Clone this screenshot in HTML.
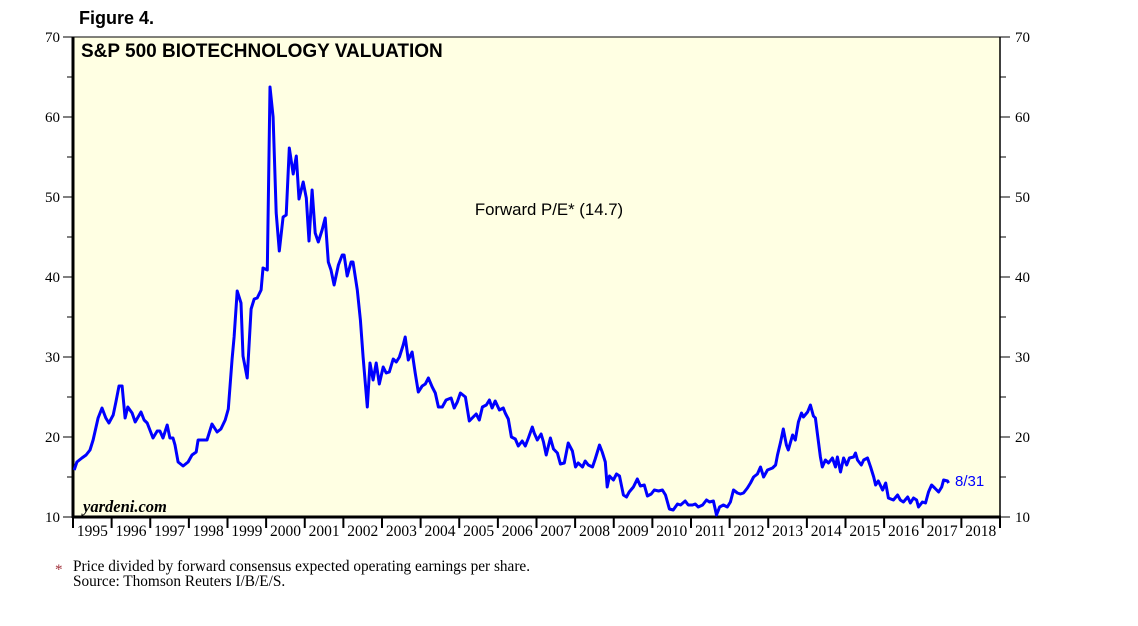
<!DOCTYPE html>
<html><head><meta charset="utf-8"><style>
body{margin:0;background:#fff;width:1138px;height:626px;overflow:hidden}
svg{display:block}
</style></head><body>
<svg id="chart" width="1138" height="626" xmlns="http://www.w3.org/2000/svg">
<text x="79" y="24" font-family="Liberation Sans, sans-serif" font-weight="bold" font-size="18">Figure 4.</text>
<rect x="73" y="37" width="927" height="480" fill="#FFFFE3" stroke="#000" stroke-width="1"/>
<text x="81" y="57" font-family="Liberation Sans, sans-serif" font-weight="bold" font-size="19">S&amp;P 500 BIOTECHNOLOGY VALUATION</text>
<text x="549" y="215" text-anchor="middle" font-family="Liberation Sans, sans-serif" font-size="16.8">Forward P/E* (14.7)</text>
<text x="83" y="512" font-family="Liberation Serif, serif" font-style="italic" font-weight="bold" font-size="16.5">yardeni.com</text>
<g id="axes"></g>
<g id="series"></g>
<text x="955" y="486" font-family="Liberation Sans, sans-serif" font-size="15" fill="#0000FF">8/31</text>
<text x="55" y="574" font-family="Liberation Serif, serif" font-size="15" fill="#A0303A">*</text>
<text x="73" y="571" font-family="Liberation Serif, serif" font-size="15.3">Price divided by forward consensus expected operating earnings per share.</text>
<text x="73" y="586" font-family="Liberation Serif, serif" font-size="15.3">Source: Thomson Reuters I/B/E/S.</text>
</svg>
<script>
const years = [1995,1996,1997,1998,1999,2000,2001,2002,2003,2004,2005,2006,2007,2008,2009,2010,2011,2012,2013,2014,2015,2016,2017,2018];
const yTicks = [10,20,30,40,50,60,70];
const dates = [1995.03,1995.10,1995.23,1995.34,1995.44,1995.52,1995.65,1995.75,1995.85,1995.93,1996.04,1996.11,1996.19,1996.27,1996.35,1996.42,1996.53,1996.61,1996.76,1996.84,1996.92,1997.07,1997.18,1997.25,1997.33,1997.44,1997.51,1997.59,1997.64,1997.72,1997.85,1997.98,1998.08,1998.19,1998.24,1998.47,1998.60,1998.73,1998.83,1998.94,1999.02,1999.12,1999.17,1999.25,1999.35,1999.40,1999.51,1999.61,1999.69,1999.77,1999.87,1999.92,2000.03,2000.10,2000.18,2000.26,2000.34,2000.44,2000.52,2000.60,2000.70,2000.78,2000.85,2000.96,2001.04,2001.11,2001.19,2001.27,2001.35,2001.45,2001.53,2001.61,2001.68,2001.76,2001.87,2001.97,2002.02,2002.10,2002.20,2002.25,2002.36,2002.44,2002.51,2002.62,2002.69,2002.77,2002.85,2002.93,2003.03,2003.11,2003.19,2003.29,2003.37,2003.45,2003.55,2003.60,2003.68,2003.78,2003.86,2003.94,2004.04,2004.12,2004.20,2004.30,2004.38,2004.46,2004.56,2004.66,2004.79,2004.87,2004.95,2005.03,2005.16,2005.26,2005.36,2005.44,2005.52,2005.60,2005.70,2005.78,2005.85,2005.93,2006.04,2006.14,2006.19,2006.27,2006.35,2006.45,2006.53,2006.63,2006.71,2006.79,2006.89,2006.94,2007.02,2007.12,2007.18,2007.25,2007.36,2007.44,2007.54,2007.62,2007.72,2007.82,2007.93,2008.01,2008.08,2008.19,2008.26,2008.34,2008.45,2008.52,2008.63,2008.70,2008.78,2008.83,2008.89,2008.99,2009.07,2009.15,2009.25,2009.33,2009.40,2009.51,2009.61,2009.69,2009.79,2009.87,2009.97,2010.05,2010.16,2010.26,2010.34,2010.44,2010.54,2010.65,2010.73,2010.85,2010.93,2011.04,2011.11,2011.19,2011.30,2011.40,2011.48,2011.58,2011.66,2011.74,2011.84,2011.94,2012.02,2012.10,2012.20,2012.28,2012.36,2012.46,2012.54,2012.62,2012.72,2012.80,2012.88,2012.98,2013.11,2013.19,2013.24,2013.32,2013.39,2013.47,2013.52,2013.63,2013.70,2013.78,2013.86,2013.91,2014.02,2014.09,2014.17,2014.22,2014.27,2014.35,2014.40,2014.48,2014.56,2014.66,2014.74,2014.79,2014.87,2014.95,2015.03,2015.10,2015.21,2015.26,2015.31,2015.41,2015.47,2015.57,2015.65,2015.73,2015.78,2015.85,2015.96,2016.04,2016.11,2016.24,2016.35,2016.42,2016.50,2016.61,2016.68,2016.76,2016.84,2016.89,2016.99,2017.07,2017.15,2017.23,2017.31,2017.41,2017.49,2017.54,2017.64,2017.67];
const peValues = [15.88,16.88,17.38,17.75,18.38,19.63,22.38,23.63,22.38,21.75,22.75,24.38,26.38,26.38,22.38,23.75,23.0,21.88,23.13,22.13,21.75,19.88,20.75,20.75,19.88,21.5,19.88,19.88,19.0,16.88,16.38,16.88,17.75,18.13,19.63,19.63,21.63,20.63,21.0,22.13,23.5,29.75,32.5,38.25,36.75,30.13,27.38,36.0,37.25,37.38,38.38,41.13,40.88,63.75,60.0,48.0,43.25,47.5,47.75,56.13,52.88,55.13,49.75,51.88,49.88,44.5,50.88,45.5,44.38,45.88,47.38,41.88,40.88,39.0,41.5,42.75,42.75,40.13,41.88,41.88,38.38,34.63,30.0,23.75,29.25,27.13,29.25,26.63,28.75,28.0,28.13,29.75,29.38,30.0,31.5,32.5,29.63,30.63,28.0,25.63,26.38,26.63,27.38,26.25,25.5,23.75,23.75,24.63,24.88,23.63,24.38,25.5,25.0,22.0,22.5,22.88,22.13,23.75,24.0,24.63,23.63,24.5,23.38,23.63,23.0,22.25,20.0,19.75,18.88,19.5,18.88,19.88,21.25,20.5,19.63,20.38,19.38,17.75,19.88,18.5,18.0,16.63,16.75,19.25,18.25,16.25,16.75,16.25,17.0,16.5,16.25,17.25,19.0,18.13,16.88,13.75,15.13,14.63,15.38,15.13,12.75,12.5,13.13,13.75,14.75,13.88,14.0,12.63,12.88,13.38,13.25,13.38,12.75,11.0,10.88,11.63,11.5,12.0,11.5,11.5,11.63,11.25,11.5,12.13,11.88,12.0,10.25,11.25,11.5,11.25,11.88,13.38,13.0,12.88,13.0,13.63,14.25,15.0,15.38,16.25,15.0,15.88,16.13,16.5,17.75,19.38,21.0,19.0,18.38,20.25,19.63,21.88,23.0,22.5,23.13,24.0,22.63,22.38,20.5,17.5,16.25,17.13,16.75,17.38,16.25,17.5,15.63,17.38,16.5,17.38,17.5,18.0,17.13,16.5,17.13,17.38,16.25,15.0,14.0,14.5,13.38,14.25,12.38,12.13,12.75,12.13,11.88,12.5,11.75,12.38,12.13,11.25,11.88,11.75,13.13,14.0,13.63,13.13,13.75,14.63,14.5,14.25];

const NS='http://www.w3.org/2000/svg';
const X0=73,X1=1000,Y0=517,Y1=37;
function xScale(t){return X0+(t-1995)*(X1-X0)/24;}
function yScale(v){return Y0-(v-10)*(Y0-Y1)/60;}
function mk(tag,attrs,parent){const e=document.createElementNS(NS,tag);for(const k in attrs)e.setAttribute(k,attrs[k]);parent.appendChild(e);return e;}
const axes=document.getElementById('axes');
let l=mk('line',{x1:X0,y1:Y1,x2:X0,y2:Y0+1,stroke:'#000','stroke-width':3},axes);


l=mk('line',{x1:X0-1,y1:Y0,x2:X1+1,y2:Y0,stroke:'#000','stroke-width':3},axes);


l=mk('line',{x1:X1,y1:Y1,x2:X1,y2:Y0,stroke:'#000','stroke-width':1.5},axes);


for(let v=10;v<=70;v+=5){
  const y=yScale(v);const major=v%10===0;
  let t=mk('line',{x1:X0-(major?10:6),y1:y,x2:X0,y2:y,stroke:'#000','stroke-width':1},axes);
  
  
  t=mk('line',{x1:X1,y1:y,x2:X1+(major?10:6),y2:y,stroke:'#000','stroke-width':1},axes);
  
  
}
yTicks.forEach(v=>{
  const y=yScale(v)+5;
  let t=mk('text',{x:60,y:y,'text-anchor':'end','font-family':'Liberation Serif, serif','font-size':15},axes);
  t.textContent=v;
  
  
  t=mk('text',{x:1015,y:y,'font-family':'Liberation Serif, serif','font-size':15},axes);
  t.textContent=v;
  
  
});
for(let i=0;i<=years.length;i++){
  const x=xScale(1995+i);
  const t=mk('line',{x1:x,y1:Y0,x2:x,y2:Y0+11,stroke:'#000','stroke-width':2},axes);
  
  
}
years.forEach(yr=>{
  const t=mk('text',{x:xScale(yr+0.5),y:Y0+19,'text-anchor':'middle','font-family':'Liberation Serif, serif','font-size':15.5},axes);
  t.textContent=yr;
  
  
});
const pts=dates.map((d,i)=>xScale(d).toFixed(1)+','+yScale(peValues[i]).toFixed(1)).join(' ');
const line=mk('polyline',{points:pts,fill:'none',stroke:'#0000FF','stroke-width':3,'stroke-linejoin':'round'},document.getElementById('series'));


</script>
</body></html>
